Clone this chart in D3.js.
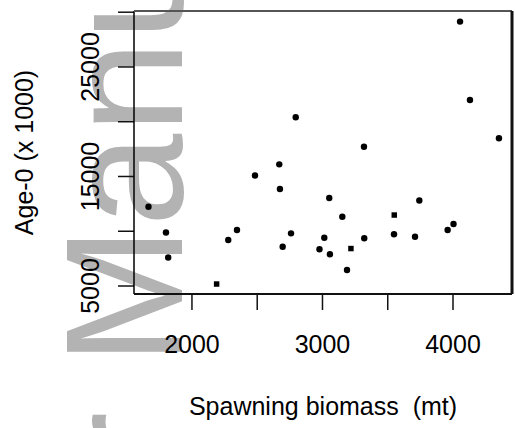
<!DOCTYPE html>
<html>
<head>
<meta charset="utf-8">
<script src="https://cdn.jsdelivr.net/npm/d3@7"></script>
<style>
  body { margin: 0; background: #fff; }
  svg { display: block; font-family: "Liberation Sans", Arial, sans-serif; }
</style>
</head>
<body>
<svg id="chart"></svg>
<script>
// spawning biomass (mt) and age-0 abundance (x 1000), round points
const biomass = [1667, 1801, 1818, 2278, 2345, 2483, 2669, 2674, 2795, 2759,
  2695, 3014, 2977, 3057, 3052, 3152, 3320, 3188, 3318, 3548,
  3709, 3742, 3959, 4004, 4054, 4130, 4352];
const age0 = [12240, 9890, 7600, 9200, 10110, 15090, 16110, 13860, 20410, 9810,
  8590, 9410, 8350, 7900, 13040, 11330, 9360, 6460, 17720, 9730,
  9500, 12810, 10110, 10660, 29140, 21990, 18490];
// square points
const biomassSq = [2189, 3218, 3550];
const age0Sq = [5180, 8420, 11480];

const xTicks = [2000, 2500, 3000, 3500, 4000];
const xLabels = [2000, 3000, 4000];
const yTicks = [5000, 10000, 15000, 20000, 25000, 30000];
const yLabels = [5000, 15000, 25000];

const svgWidth = 515;
const svgHeight = 428;
const plot = { left: 134, right: 512, top: 11, bottom: 294 };

const svg = d3.select("#chart").attr("width", svgWidth).attr("height", svgHeight);

// watermark behind everything
svg.append("text")
  .attr("transform", "translate(182, 904) rotate(-90)")
  .style("font-size", "167px")
  .style("fill", "#b3b3b3")
  .text("Author Manuscript");

const x = d3.scaleLinear().domain([1556, 4452]).range([plot.left, plot.right]);
const y = d3.scaleLinear().domain([4270, 30110]).range([plot.bottom, plot.top]);

// x axis ticks + labels
const gx = svg.append("g");
gx.selectAll("line").data(xTicks).enter().append("line")
  .attr("x1", d => x(d)).attr("x2", d => x(d))
  .attr("y1", plot.bottom).attr("y2", plot.bottom + 16)
  .attr("stroke", "#111").attr("stroke-width", 1.5);
gx.selectAll("text").data(xLabels).enter().append("text")
  .attr("x", d => x(d)).attr("y", 353)
  .attr("text-anchor", "middle")
  .style("font-size", "25px")
  .text(d => d);

// y axis ticks + labels
const gy = svg.append("g");
gy.selectAll("line").data(yTicks).enter().append("line")
  .attr("x1", plot.left - 16).attr("x2", plot.left)
  .attr("y1", d => y(d)).attr("y2", d => y(d))
  .attr("stroke", "#111").attr("stroke-width", 1.5);
gy.selectAll("text").data(yLabels).enter().append("text")
  .attr("transform", d => `translate(99, ${y(d)}) rotate(-90)`)
  .attr("text-anchor", "middle")
  .style("font-size", "25px")
  .text(d => d);

// box
svg.append("line").attr("x1", plot.left).attr("x2", plot.left)
  .attr("y1", plot.top).attr("y2", plot.bottom).attr("stroke", "#000").attr("stroke-width", 1.5);
svg.append("line").attr("x1", plot.left).attr("x2", plot.right)
  .attr("y1", plot.top).attr("y2", plot.top).attr("stroke", "#555").attr("stroke-width", 2);
svg.append("line").attr("x1", plot.left).attr("x2", plot.right)
  .attr("y1", plot.bottom).attr("y2", plot.bottom).attr("stroke", "#111").attr("stroke-width", 2);
svg.append("line").attr("x1", plot.right).attr("x2", plot.right)
  .attr("y1", plot.top).attr("y2", plot.bottom).attr("stroke", "#111").attr("stroke-width", 3);

// points
svg.selectAll(".dot").data(biomass).enter().append("circle")
  .attr("class", "dot")
  .attr("cx", d => x(d))
  .attr("cy", (d, i) => y(age0[i]))
  .attr("r", 3.2)
  .style("fill", "#000");

svg.selectAll(".sq").data(biomassSq).enter().append("path")
  .attr("class", "sq")
  .attr("d", d3.symbol().type(d3.symbolSquare).size(30))
  .attr("transform", (d, i) => `translate(${x(d)}, ${y(age0Sq[i])})`)
  .style("fill", "#000");

// axis titles
svg.append("text")
  .attr("x", (plot.left + plot.right) / 2).attr("y", 415)
  .attr("text-anchor", "middle")
  .attr("xml:space", "preserve")
  .style("font-size", "25px")
  .text("Spawning biomass  (mt)");

svg.append("text")
  .attr("transform", `translate(33, ${(plot.top + plot.bottom) / 2}) rotate(-90)`)
  .attr("text-anchor", "middle")
  .style("font-size", "25px")
  .text("Age-0 (x 1000)");
</script>
</body>
</html>
